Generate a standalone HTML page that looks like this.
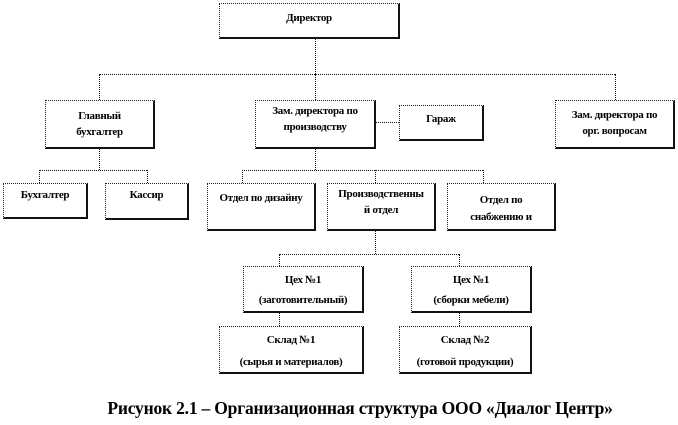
<!DOCTYPE html>
<html><head><meta charset="utf-8"><style>
body{margin:0;width:678px;height:425px;background:#fff;position:relative;overflow:hidden;font-family:"Liberation Serif","DejaVu Serif",serif;}
.b{position:absolute;box-sizing:border-box;border:1px dotted #222;border-right:2px solid #111;border-bottom:2px solid #111;background:#fff;font-weight:bold;font-size:11px;text-align:center;line-height:16px;letter-spacing:-0.3px;overflow:hidden;color:#000;white-space:nowrap;}
.h{position:absolute;border-top:1px dotted #111;height:0;}
.v{position:absolute;border-left:1px dotted #111;width:0;}
.cap{position:absolute;left:90px;top:398px;width:540px;text-align:center;font-weight:bold;font-size:17.5px;white-space:nowrap;letter-spacing:-0.2px;}
</style></head><body>
<div class="v" style="left:315px;top:38px;height:36px"></div>
<div class="h" style="left:99px;top:74px;width:516px"></div>
<div class="v" style="left:99px;top:74px;height:26px"></div>
<div class="v" style="left:615px;top:74px;height:26px"></div>
<div class="v" style="left:315px;top:74px;height:26px"></div>
<div class="h" style="left:375px;top:122px;width:24px"></div>
<div class="v" style="left:99px;top:148px;height:22px"></div>
<div class="h" style="left:39px;top:170px;width:108px"></div>
<div class="v" style="left:39px;top:170px;height:13px"></div>
<div class="v" style="left:147px;top:170px;height:13px"></div>
<div class="v" style="left:315px;top:148px;height:22px"></div>
<div class="h" style="left:242px;top:170px;width:241px"></div>
<div class="v" style="left:242px;top:170px;height:13px"></div>
<div class="v" style="left:375px;top:170px;height:13px"></div>
<div class="v" style="left:483px;top:170px;height:13px"></div>
<div class="v" style="left:375px;top:230px;height:24px"></div>
<div class="h" style="left:279px;top:254px;width:180px"></div>
<div class="v" style="left:279px;top:254px;height:12px"></div>
<div class="v" style="left:459px;top:254px;height:12px"></div>
<div class="v" style="left:279px;top:312px;height:14px"></div>
<div class="v" style="left:459px;top:312px;height:14px"></div>

<div class="b" style="left:219px;top:3px;width:181px;height:36px;padding-top:6px">Директор</div>
<div class="b" style="left:45px;top:100px;width:110px;height:49px;padding-top:7px">Главный<br>бухгалтер</div>
<div class="b" style="left:255px;top:100px;width:121px;height:49px;padding-top:2px">Зам. директора по<br>производству</div>
<div class="b" style="left:399px;top:105px;width:85px;height:36px;padding-top:5px">Гараж</div>
<div class="b" style="left:555px;top:100px;width:120px;height:49px;padding-top:6px">Зам. директора по<br>орг. вопросам</div>
<div class="b" style="left:3px;top:183px;width:85px;height:36px;padding-top:3px">Бухгалтер</div>
<div class="b" style="left:105px;top:183px;width:84px;height:37px;padding-top:3px">Кассир</div>
<div class="b" style="left:207px;top:183px;width:109px;height:48px;padding-top:6px">Отдел по дизайну</div>
<div class="b" style="left:327px;top:183px;width:109px;height:48px;padding-top:2px">Производственны<br>й отдел</div>
<div class="b" style="left:447px;top:183px;width:109px;height:48px;padding-top:8px;line-height:17px">Отдел по<br>снабжению и<br>сбыту</div>
<div class="b" style="left:243px;top:266px;width:121px;height:47px;padding-top:3px;line-height:20px">Цех №1<br>(заготовительный)</div>
<div class="b" style="left:411px;top:266px;width:121px;height:47px;padding-top:3px;line-height:20px">Цех №1<br>(сборки мебели)</div>
<div class="b" style="left:219px;top:326px;width:145px;height:48px;padding-top:2px;line-height:22px">Склад №1<br>(сырья и материалов)</div>
<div class="b" style="left:399px;top:326px;width:133px;height:48px;padding-top:2px;line-height:22px">Склад №2<br>(готовой продукции)</div>
<div class="cap">Рисунок 2.1 – Организационная структура ООО «Диалог Центр»</div>
</body></html>
